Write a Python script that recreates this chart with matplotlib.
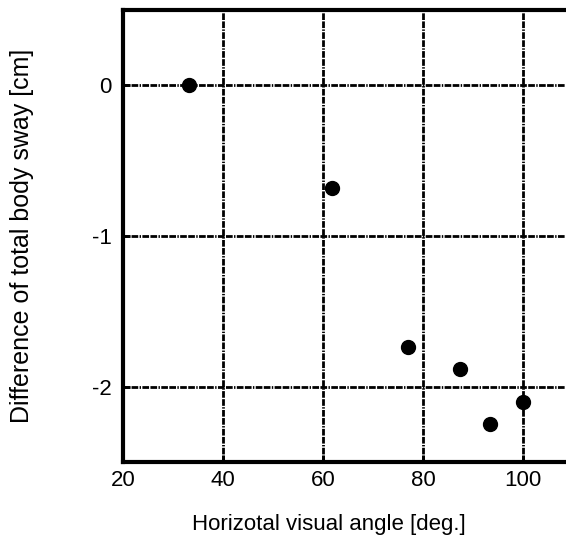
import matplotlib
matplotlib.use("Agg")
import matplotlib.pyplot as plt

# horizontal visual angle [deg.] vs difference of total body sway [cm]
angle = [33.2, 61.8, 77.0, 87.4, 93.4, 100.0]
sway_diff = [0.0, -0.68, -1.74, -1.88, -2.25, -2.10]

xticks = [20, 40, 60, 80, 100]
yticks = [0, -1, -2]

plt.rcParams["font.family"] = ["Liberation Sans", "DejaVu Sans"]

fig = plt.figure(figsize=(5.66, 5.42), dpi=100)
ax = fig.add_axes([0.2173, 0.1476, 0.7827, 0.834])

ax.plot(angle, sway_diff, "o", color="black", ms=10, zorder=3, clip_on=False)

ax.set_xlim(20, 108.6)
ax.set_ylim(-2.5, 0.5)
ax.set_xticks(xticks)
ax.set_yticks(yticks)
ax.set_yticklabels([str(t) for t in yticks])
ax.grid(True, color="black", lw=2, ls=(0, (2.4, 0.5, 2.4, 0.5, 0.5, 0.5)))
ax.tick_params(direction="in", length=5, width=2, labelsize=16)
ax.tick_params(axis="x", pad=6)
ax.tick_params(axis="y", pad=8)

for side in ("left", "bottom", "top"):
    ax.spines[side].set_linewidth(3)
ax.spines["right"].set_visible(False)

ax.set_xlabel("Horizotal visual angle [deg.]", fontsize=16)
ax.xaxis.set_label_coords(0.465, -0.115)
ax.set_ylabel("Difference of total body sway [cm]", fontsize=18)
ax.yaxis.set_label_coords(-0.2, 0.5)

fig.savefig("out.png", dpi=100)
